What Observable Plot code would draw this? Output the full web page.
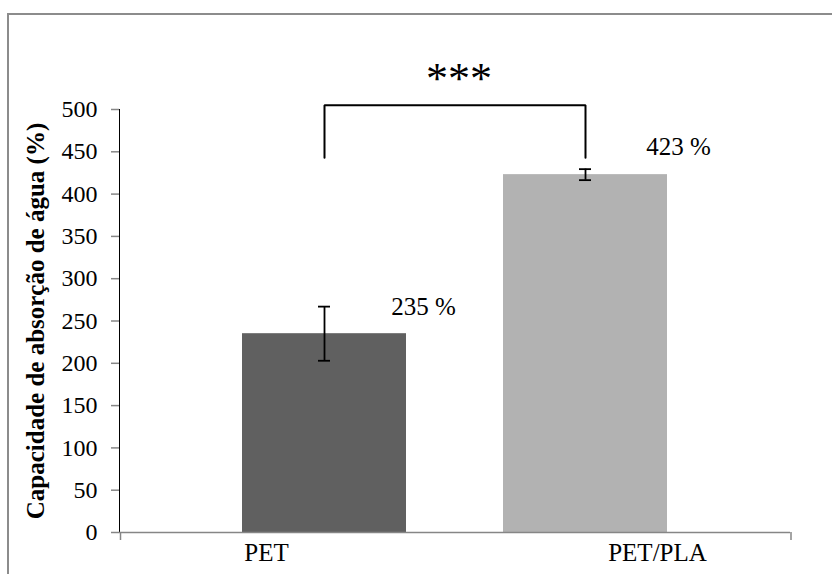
<!DOCTYPE html>
<html>
<head>
<meta charset="utf-8">
<script src="https://cdn.jsdelivr.net/npm/d3@7"></script>
<script src="https://cdn.jsdelivr.net/npm/@observablehq/plot@0.6"></script>
<style>
  html, body { margin: 0; padding: 0; background: #fff; overflow: hidden; }
  #wrap { position: relative; width: 832px; height: 574px; overflow: hidden; }
  #border { position: absolute; left: 7px; top: 13px; width: 900px; height: 700px;
            border-left: 2px solid #8c8c8c; border-top: 2px solid #8c8c8c; }
  #chart { position: absolute; left: 0; top: 0; }
  #chart svg g[aria-label^="y-axis"] line,
  #chart svg g[aria-label^="y-axis"] path { stroke: #868686; stroke-width: 1.5px; }
  #chart svg text { font-family: 'Liberation Serif', 'Times New Roman', serif; }
</style>
</head>
<body>
<div id="wrap"><div id="border"></div><div id="chart"></div></div>
<script>
const categories = ["PET", "PET/PLA"];
const values = [235, 423];
const errors = [32, 6.5];
const valueLabels = ["235 %", "423 %"];
const barColors = ["#606060", "#b2b2b2"];
const yTicks = [0, 50, 100, 150, 200, 250, 300, 350, 400, 450, 500];
const yTitle = "Capacidade de absorção de água (%)";
const significance = "***";
const bracketBottom = 443;
const bracketTop = 505;

const data = categories.map((c, i) => ({c, v: values[i], e: errors[i], label: valueLabels[i], color: barColors[i]}));
const bracket = [
  {c: categories[0], v: bracketBottom},
  {c: categories[0], v: bracketTop},
  {c: categories[1], v: bracketTop},
  {c: categories[1], v: bracketBottom}
];

const chart = Plot.plot({
  width: 832,
  height: 574,
  marginLeft: 119,
  marginRight: 42,
  marginTop: 109,
  marginBottom: 42,
  style: {fontFamily: "'Liberation Serif', 'Times New Roman', serif", fontSize: "24px", color: "black", background: "transparent", overflow: "visible"},
  x: {domain: categories, paddingInner: 0.372, paddingOuter: 0.47, axis: null},
  y: {domain: [0, 500], ticks: yTicks, tickSize: 8, tickPadding: 14, line: true, label: null, tickFormat: d => String(d)},
  color: {type: "identity"},
  marks: [
    Plot.barY(data, {x: "c", y: "v", fill: "color"}),
    Plot.ruleY([0], {stroke: "#868686", strokeWidth: 1.5}),
    // end ticks of the category axis
    Plot.ruleX([categories[0]], {x: d => d, y1: 0, y2: 0, insetBottom: -8, dx: -204, stroke: "#868686", strokeWidth: 1.5}),
    Plot.ruleX([categories[1]], {x: d => d, y1: 0, y2: 0, insetBottom: -8, dx: 205.5, stroke: "#868686", strokeWidth: 1.5}),
    Plot.ruleX(data, {x: "c", y1: d => d.v - d.e, y2: d => d.v + d.e, stroke: "black", strokeWidth: 1.8}),
    Plot.tickY(data, {x: "c", y: d => d.v - d.e, stroke: "black", strokeWidth: 1.8, insetLeft: 76, insetRight: 76}),
    Plot.tickY(data, {x: "c", y: d => d.v + d.e, stroke: "black", strokeWidth: 1.8, insetLeft: 76, insetRight: 76}),
    Plot.text([data[0]], {x: "c", y: d => d.v + d.e, text: "label", dx: 99, dy: 0, fontSize: 25}),
    Plot.text([data[1]], {x: "c", y: d => d.v + d.e, text: "label", dx: 93, dy: -22, fontSize: 25}),
    Plot.text([categories[0]], {x: d => d, text: d => d, frameAnchor: "bottom", dx: -58, dy: 28, fontSize: 25}),
    Plot.text([categories[1]], {x: d => d, text: d => d, frameAnchor: "bottom", dx: 72, dy: 28, fontSize: 25}),
    Plot.line(bracket, {x: "c", y: "v", stroke: "black", strokeWidth: 2, strokeLinejoin: "miter"}),
    Plot.text([significance], {text: d => d, frameAnchor: "top", textAnchor: "middle", dx: 4, dy: -48, fontSize: 44}),
    Plot.text([yTitle], {text: d => d, frameAnchor: "left", textAnchor: "middle", rotate: -90, dx: -84, fontSize: 25, fontWeight: "bold"})
  ]
});
document.getElementById("chart").appendChild(chart);
</script>
</body>
</html>
